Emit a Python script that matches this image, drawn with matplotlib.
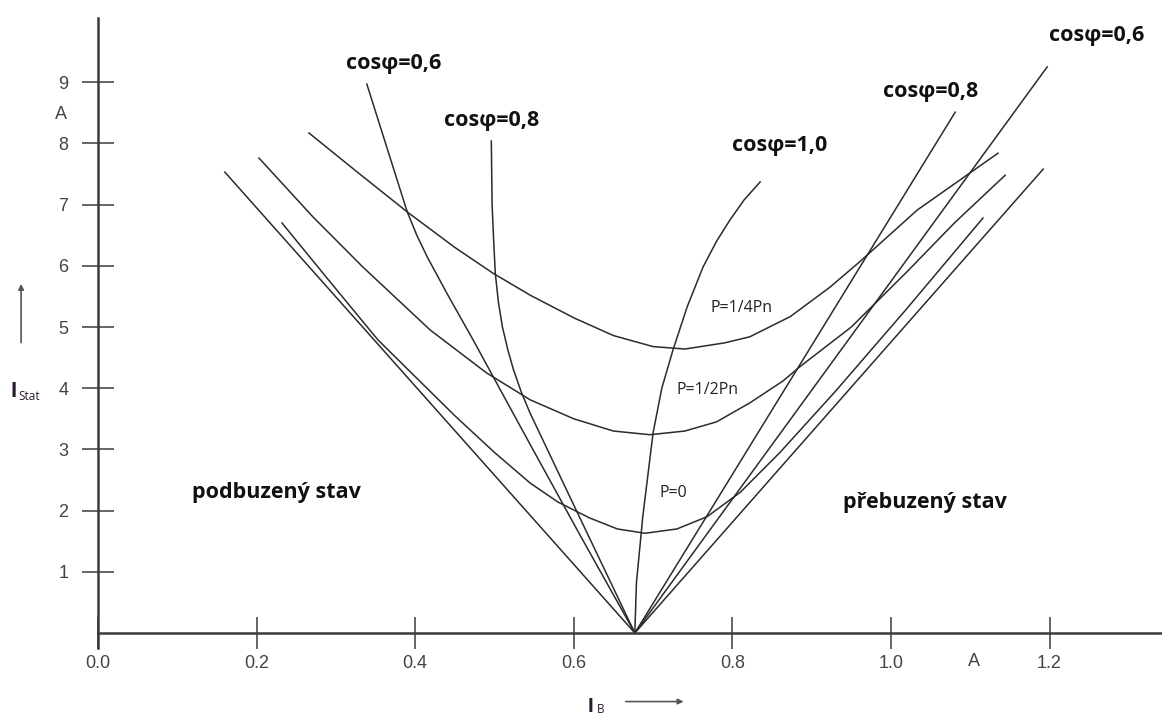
import matplotlib.pyplot as plt

# V curves of a synchronous motor: stator current vs. excitation current
# everything, x in A (I_B), y in A (I_Stat)

x_ticks = [0.0, 0.2, 0.4, 0.6, 0.8, 1.0, 1.2]
x_labels = ['0.0', '0.2', '0.4', '0.6', '0.8', '1.0', '1.2']
y_ticks = [1, 2, 3, 4, 5, 6, 7, 8, 9]

# ideal P=0 V (straight lines through the vertex)
v0_x = [0.160, 0.677, 1.192]
v0_y = [7.53, 0.0, 7.58]

# P = 0
p0_x = [0.232, 0.290, 0.353, 0.450, 0.500, 0.545, 0.580, 0.620, 0.655, 0.690,
        0.730, 0.768, 0.810, 0.860, 0.930, 1.020, 1.116]
p0_y = [6.70, 5.78, 4.79, 3.55, 2.95, 2.45, 2.14, 1.88, 1.70, 1.63,
        1.70, 1.90, 2.30, 2.95, 3.95, 5.30, 6.78]

# P = 1/2 Pn
p12_x = [0.203, 0.271, 0.334, 0.419, 0.490, 0.545, 0.600, 0.650, 0.696, 0.740,
         0.780, 0.822, 0.864, 0.885, 0.950, 1.020, 1.080, 1.144]
p12_y = [7.76, 6.80, 5.98, 4.95, 4.25, 3.81, 3.50, 3.30, 3.24, 3.30,
         3.45, 3.76, 4.12, 4.35, 5.00, 5.90, 6.70, 7.48]

# P = 1/4 Pn
p14_x = [0.266, 0.330, 0.390, 0.450, 0.498, 0.545, 0.600, 0.650, 0.700, 0.740,
         0.790, 0.822, 0.873, 0.923, 0.961, 1.033, 1.135]
p14_y = [8.17, 7.50, 6.88, 6.30, 5.88, 5.52, 5.15, 4.86, 4.68, 4.64,
         4.74, 4.84, 5.17, 5.65, 6.07, 6.91, 7.84]

# cos phi curves
c06l_x = [0.339, 0.368, 0.390, 0.402, 0.415, 0.440, 0.473, 0.545, 0.610, 0.677]
c06l_y = [8.97, 7.78, 6.88, 6.50, 6.15, 5.55, 4.79, 3.08, 1.55, 0.0]
c08l_x = [0.496, 0.4965, 0.497, 0.499, 0.501, 0.505, 0.510, 0.517, 0.524, 0.534,
          0.545, 0.600, 0.677]
c08l_y = [8.04, 7.50, 7.00, 6.40, 5.88, 5.40, 5.00, 4.62, 4.30, 3.93,
          3.59, 2.09, 0.0]
c10_x = [0.677, 0.679, 0.687, 0.700, 0.711, 0.725, 0.743, 0.763, 0.780, 0.797,
         0.815, 0.835]
c10_y = [0.0, 0.82, 1.90, 3.27, 4.00, 4.62, 5.33, 5.98, 6.40, 6.75,
         7.08, 7.37]
c08r_x = [0.677, 1.081]
c08r_y = [0.0, 8.51]
c06r_x = [0.677, 1.197]
c06r_y = [0.0, 9.25]

plt.rcParams['font.family'] = ['Liberation Sans', 'DejaVu Sans']
lab_font = ['Open Sans', 'DejaVu Sans']

fig = plt.figure(figsize=(11.62, 7.19), dpi=100)
ax = fig.add_axes([0, 0, 1, 1])
ax.set_xlim(-0.1236, 1.3418)
ax.set_ylim(-1.405, 10.343)

line_col = '#2b2b2b'
for xs, ys in [(v0_x, v0_y), (p0_x, p0_y), (p12_x, p12_y), (p14_x, p14_y),
               (c06l_x, c06l_y), (c08l_x, c08l_y), (c10_x, c10_y),
               (c08r_x, c08r_y), (c06r_x, c06r_y)]:
    ax.plot(xs, ys, color=line_col, lw=1.1, solid_joinstyle='round')

# axes through the origin
ax.spines['top'].set_visible(False)
ax.spines['right'].set_visible(False)
ax.spines['left'].set_position(('data', 0))
ax.spines['bottom'].set_position(('data', 0))
ax.spines['left'].set_bounds(-0.245, 10.05)
ax.spines['bottom'].set_bounds(0, 1.3418)
for s in ['left', 'bottom']:
    ax.spines[s].set_color('#3a3a3a')
    ax.spines[s].set_linewidth(1.8)

ax.set_xticks(x_ticks)
ax.set_xticklabels(x_labels)
ax.set_yticks(y_ticks)
ax.tick_params(direction='inout', length=23, width=1.1, color='#3a3a3a',
               labelsize=13, labelcolor='#444444')
ax.tick_params(axis='x', pad=4)
ax.tick_params(axis='y', pad=10)

# unit labels
ax.text(-0.047, 8.48, 'A', fontsize=13, color='#444444', ha='center', va='center')
ax.text(1.105, -0.47, 'A', fontsize=13, color='#444444', ha='center', va='center')

# axis names with arrows
ax.annotate('', xy=(-0.097, 5.75), xytext=(-0.097, 4.7),
            arrowprops=dict(arrowstyle='-|>', color='#555555', lw=1.2, mutation_scale=8))
ax.text(-0.110, 3.95, 'I', fontsize=16, fontweight='bold', color='#2a1a30',
        ha='left', va='center')
ax.text(-0.100, 3.87, 'Stat', fontsize=8.5, color='#2a1a30', ha='left', va='center',
        family=lab_font)
ax.annotate('', xy=(0.742, -1.12), xytext=(0.662, -1.12),
            arrowprops=dict(arrowstyle='-|>', color='#555555', lw=1.2, mutation_scale=8))
ax.text(0.618, -1.20, 'I', fontsize=15, fontweight='bold', color='#2a1a30',
        ha='left', va='center')
ax.text(0.629, -1.25, 'B', fontsize=8.5, color='#2a1a30', ha='left', va='center',
        family=lab_font)

# curve labels
big = dict(fontsize=15.5, fontweight='bold', color='#111111', ha='center',
           va='center', family=lab_font)
ax.text(0.373, 9.31, 'cosφ=0,6', **big)
ax.text(0.496, 8.37, 'cosφ=0,8', **big)
ax.text(0.859, 7.97, 'cosφ=1,0', **big)
ax.text(1.050, 8.84, 'cosφ=0,8', **big)
ax.text(1.259, 9.77, 'cosφ=0,6', **big)
ax.text(0.225, 2.29, 'podbuzený stav', **big)
ax.text(1.043, 2.14, 'přebuzený stav', **big)

small = dict(fontsize=11.5, color='#222222', ha='center', va='center', family=lab_font)
ax.text(0.812, 5.31, 'P=1/4Pn', **small)
ax.text(0.768, 3.97, 'P=1/2Pn', **small)
ax.text(0.726, 2.29, 'P=0', **small)

fig.savefig('out.png', dpi=100)
